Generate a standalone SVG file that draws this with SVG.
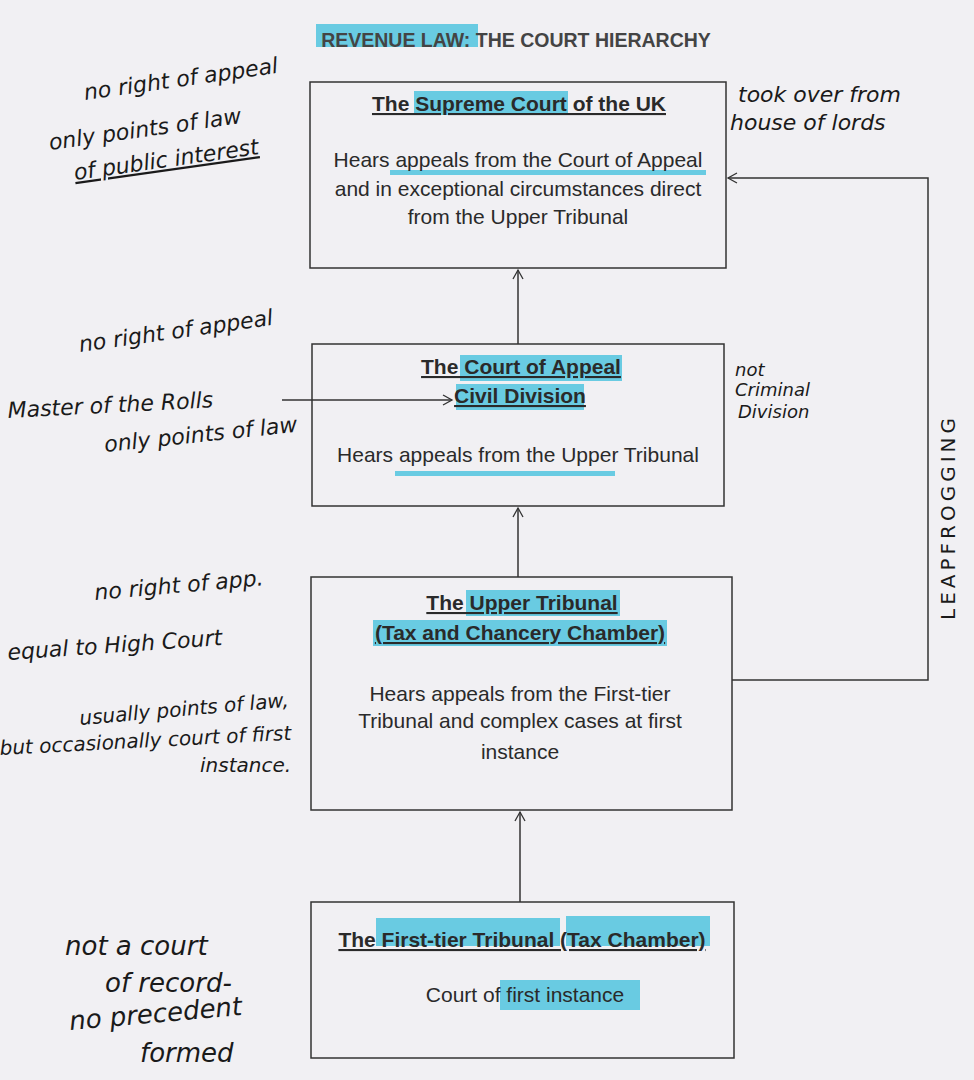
<svg xmlns="http://www.w3.org/2000/svg" width="974" height="1080" viewBox="0 0 974 1080">
<defs>
<marker id="ah" markerWidth="12" markerHeight="12" refX="10" refY="6" orient="auto" markerUnits="userSpaceOnUse">
<path d="M1,1 L10,6 L1,11" fill="none" stroke="#333" stroke-width="1.3"/>
</marker>
<style>
.box{fill:none;stroke:#333;stroke-width:1.5}
.t{font-family:"Liberation Sans",Arial,sans-serif;font-size:21px;fill:#2a2a2a;text-anchor:middle}
.h{font-size:21px;text-decoration:underline;font-weight:bold}
.hl{fill:#3bbfdc;opacity:0.75}
.w{font-family:"DejaVu Sans",sans-serif;font-style:italic;font-size:22px;fill:#1a1a1a}
.c{stroke:#333;stroke-width:1.5;fill:none}
</style>
</defs>
<rect width="974" height="1080" fill="#f1f0f3"/>
<g id="title">
<rect class="hl" x="316" y="24" width="162" height="23"/>
<text class="t" x="516" y="47" style="font-weight:bold;font-size:19.5px;fill:#444">REVENUE LAW: THE COURT HIERARCHY</text>
</g>
<g id="supreme">
<rect class="box" x="310" y="82" width="416" height="186"/>
<rect class="hl" x="414" y="91" width="154" height="24"/>
<text class="t h" x="519" y="111">The Supreme Court of the UK</text>
<rect class="hl" x="390" y="170" width="316" height="5"/>
<text class="t" x="518" y="167">Hears appeals from the Court of Appeal</text>
<text class="t" x="518" y="196">and in exceptional circumstances direct</text>
<text class="t" x="518" y="224">from the Upper Tribunal</text>
</g>
<g id="appeal">
<rect class="box" x="312" y="344" width="412" height="162"/>
<rect class="hl" x="460" y="355" width="162" height="26"/>
<rect class="hl" x="456" y="384" width="128" height="26"/>
<text class="t h" x="521" y="374">The Court of Appeal</text>
<text class="t h" x="520" y="403">Civil Division</text>
<rect class="hl" x="395" y="471" width="220" height="5"/>
<text class="t" x="518" y="462">Hears appeals from the Upper Tribunal</text>
</g>
<g id="upper">
<rect class="box" x="311" y="577" width="421" height="233"/>
<rect class="hl" x="466" y="590" width="154" height="26"/>
<rect class="hl" x="373" y="620" width="294" height="26"/>
<text class="t h" x="522" y="610">The Upper Tribunal</text>
<text class="t h" x="520" y="640">(Tax and Chancery Chamber)</text>
<text class="t" x="520" y="701">Hears appeals from the First-tier</text>
<text class="t" x="520" y="728">Tribunal and complex cases at first</text>
<text class="t" x="520" y="759">instance</text>
</g>
<g id="firsttier">
<rect class="box" x="311" y="902" width="423" height="156"/>
<rect class="hl" x="376" y="918" width="184" height="28"/>
<rect class="hl" x="566" y="916" width="144" height="30"/>
<text class="t h" x="522" y="947">The First-tier Tribunal (Tax Chamber)</text>
<rect class="hl" x="500" y="980" width="140" height="30"/>
<text class="t" x="525" y="1002">Court of first instance</text>
</g>
<g id="connectors">
<line class="c" x1="518" y1="344" x2="518" y2="270" marker-end="url(#ah)"/>
<line class="c" x1="518" y1="577" x2="518" y2="508" marker-end="url(#ah)"/>
<line class="c" x1="520" y1="902" x2="520" y2="812" marker-end="url(#ah)"/>
<polyline class="c" points="732,680 928,680 928,178 728,178" marker-end="url(#ah)"/>
<line class="c" x1="282" y1="400" x2="452" y2="400" marker-end="url(#ah)"/>
</g>
<g id="notes">
<text class="w" x="85" y="100" transform="rotate(-8 85 100)">no right of appeal</text>
<text class="w" x="50" y="150" transform="rotate(-8 50 150)">only points of law</text>
<text class="w" x="75" y="180" transform="rotate(-8 75 180)" style="text-decoration:underline">of public interest</text>
<text class="w" x="738" y="102">took over from</text>
<text class="w" x="730" y="130">house of lords</text>
<text class="w" x="80" y="352" transform="rotate(-8 80 352)">no right of appeal</text>
<text class="w" x="8" y="418" transform="rotate(-3 8 418)">Master of the Rolls</text>
<text class="w" x="105" y="452" transform="rotate(-6 105 452)">only points of law</text>
<text class="w" x="735" y="376" style="font-size:18px">not</text>
<text class="w" x="735" y="396" style="font-size:18px">Criminal</text>
<text class="w" x="738" y="418" style="font-size:18px">Division</text>
<text class="w" x="955" y="620" transform="rotate(-90 955 620)" style="font-style:normal;font-size:20px;letter-spacing:4px">LEAPFROGGING</text>
<text class="w" x="95" y="600" transform="rotate(-5 95 600)">no right of app.</text>
<text class="w" x="8" y="660" transform="rotate(-4 8 660)">equal to High Court</text>
<text class="w" x="80" y="725" transform="rotate(-5 80 725)" style="font-size:20px">usually points of law,</text>
<text class="w" x="0" y="755" transform="rotate(-3 0 755)" style="font-size:20px">but occasionally court of first</text>
<text class="w" x="200" y="772" style="font-size:20px">instance.</text>
<text class="w" x="65" y="955" style="font-size:26px">not a court</text>
<text class="w" x="105" y="992" style="font-size:26px">of record-</text>
<text class="w" x="70" y="1030" transform="rotate(-5 70 1030)" style="font-size:26px">no precedent</text>
<text class="w" x="140" y="1062" style="font-size:26px">formed</text>
</g>
</svg>
